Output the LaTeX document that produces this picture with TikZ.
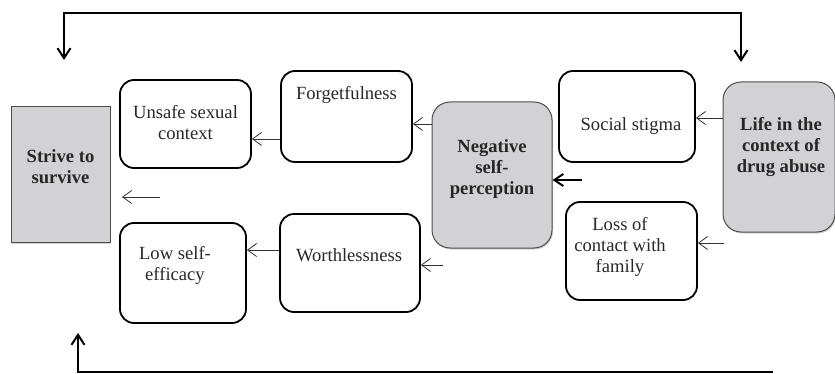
\documentclass[tikz,border=0pt]{standalone}
\usepackage{fontspec}
\setmainfont{Liberation Serif}
\usetikzlibrary{arrows.meta,shadows}
\definecolor{boxgray}{RGB}{210,210,212}
\definecolor{txtgray}{RGB}{40,40,40}
\begin{document}
\begin{tikzpicture}[x=1pt,y=-1pt,
  wbox/.style={draw=black,line width=1.8pt,rounded corners=14pt,fill=white,inner sep=0pt},
  gbox/.style={draw=black!70,line width=1pt,rounded corners=18pt,fill=boxgray,inner sep=0pt,
    drop shadow={shadow xshift=1pt,shadow yshift=-1.5pt,opacity=0.35}},
  sbox/.style={draw=black!70,line width=1pt,fill=boxgray,inner sep=0pt,
    drop shadow={shadow xshift=1pt,shadow yshift=-1.5pt,opacity=0.35}},
  txt/.style={font=\fontsize{18.6}{21}\selectfont,text=txtgray,align=center,inner sep=0pt},
  btxt/.style={font=\fontsize{18.6}{21}\selectfont\bfseries,text=black!85,align=center,inner sep=0pt},
  thin arr/.style={-{Straight Barb[length=9pt,width=13pt]},line width=0.8pt,black!80},
  thick arr/.style={-{Straight Barb[length=9pt,width=12pt]},line width=2pt},
  loop line/.style={line width=2pt,black}
]
\useasboundingbox (0,0) rectangle (835,374);
% boxes
\node[sbox,minimum width=99pt,minimum height=135pt] (strive) at (60.5,174.5) {};
\node[btxt] (strivet) at (60.5,167) {Strive to\\survive};
\node[wbox,minimum width=131pt,minimum height=88pt] (unsafe) at (185.5,124) {};
\node[txt] (unsafet) at (185.5,123) {Unsafe sexual\\context};
\node[wbox,minimum width=131pt,minimum height=91pt] (forg) at (346.5,116.5) {};
\node[txt] (forgt) at (346.5,95) {Forgetfulness};
\node[gbox,minimum width=120pt,minimum height=146pt] (neg) at (492,175) {};
\node[btxt] (negt) at (492,169) {Negative\\self-\\perception};
\node[wbox,minimum width=136pt,minimum height=91pt] (social) at (627,116.5) {};
\node[txt] (socialt) at (631,126) {Social stigma};
\node[gbox,minimum width=112pt,minimum height=150pt] (life) at (779,157) {};
\node[btxt] (lifet) at (781,147) {Life in the\\context of\\drug abuse};
\node[wbox,minimum width=131pt,minimum height=98pt] (loss) at (631.5,251) {};
\node[txt] (losst) at (620,247) {Loss of\\contact with\\family};
\node[wbox,minimum width=140pt,minimum height=98pt] (worth) at (350,263) {};
\node[txt] (wortht) at (349,255) {Worthlessness};
\node[wbox,minimum width=126pt,minimum height=100pt] (low) at (183,273) {};
\node[txt] (lowt) at (175,265) {Low self-\\efficacy};
% free tails
\coordinate (thicktail) at (582,180);
\coordinate (losstail) at (724,243);
\coordinate (worthtail) at (443,265);
\coordinate (leftTail) at (160,197);
\coordinate (leftHead) at (122,197);
% arrows
\draw[thin arr] (forg.west |- 0,139) -- (unsafe.east |- 0,139);
\draw[thin arr] (neg.west |- 0,124) -- (forg.east |- 0,124);
\draw[thin arr] (life.west |- 0,118) -- (social.east |- 0,118);
\draw[thick arr] (thicktail) -- (neg.east |- thicktail);
\draw[thin arr] (losstail) -- (loss.east |- losstail);
\draw[thin arr] (worthtail) -- (worth.east |- worthtail);
\draw[thin arr] (worth.west |- 0,250) -- (low.east |- 0,250);
\draw[thin arr] (leftTail) -- (leftHead);
% loop lines
\coordinate (topL) at (64,60);
\coordinate (topR) at (741,62);
\draw[loop line,{Straight Barb[length=10pt,width=13pt]}-{Straight Barb[length=10pt,width=13pt]}] (topL) |- (741,13) -- (topR);
\coordinate (botR) at (773,372);
\coordinate (botL) at (78,333);
\draw[loop line,-{Straight Barb[length=10pt,width=13pt]}] (botR) -| (botL);
\end{tikzpicture}
\end{document}
